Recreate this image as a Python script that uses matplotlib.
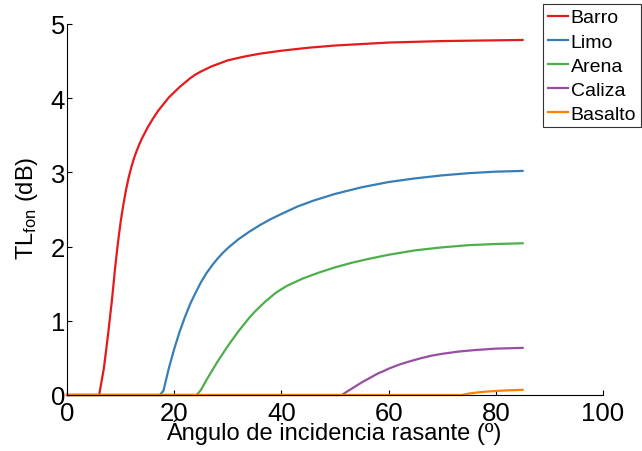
import matplotlib
matplotlib.use("Agg")
import matplotlib.pyplot as plt

plt.rcParams['font.family'] = ['Liberation Sans', 'DejaVu Sans']

# Bottom loss vs grazing angle for several seabed types
barro_ang = [0, 6.0, 6.9, 7.7, 8.4, 9.0, 9.5, 10.0, 10.5, 11.0, 11.5, 12.0, 12.5,
             13.0, 13.5, 14.0, 15.0, 16.0, 17.0, 18.0, 19.0, 20.0, 21.0, 22.0,
             23.0, 24.0, 25.0, 27.0, 30.0, 33.0, 36.0, 40.0, 45.0, 50.0, 55.0,
             60.0, 65.0, 70.0, 75.0, 80.0, 85.0]
barro_tl = [0, 0, 0.37, 0.84, 1.29, 1.73, 2.05, 2.33, 2.56, 2.76, 2.93, 3.07, 3.19,
            3.29, 3.38, 3.46, 3.60, 3.72, 3.83, 3.92, 4.01, 4.08, 4.15, 4.21,
            4.27, 4.32, 4.36, 4.43, 4.51, 4.56, 4.60, 4.64, 4.68, 4.71, 4.73,
            4.75, 4.76, 4.77, 4.775, 4.78, 4.785]

limo_ang = [0, 17.35, 18, 19, 20, 21, 22, 23, 24, 25, 26, 27, 28, 29, 30, 32, 34,
            36, 38, 40, 43, 46, 50, 55, 60, 65, 70, 75, 80, 85]
limo_tl = [0, 0, 0.06, 0.36, 0.62, 0.85, 1.05, 1.23, 1.38, 1.52, 1.64, 1.74, 1.83,
           1.91, 1.98, 2.10, 2.20, 2.29, 2.37, 2.44, 2.54, 2.62, 2.71, 2.80, 2.87,
           2.92, 2.96, 2.99, 3.01, 3.02]

arena_ang = [0, 24.2, 25, 26, 27, 28, 29, 30, 31, 32, 33, 34, 35, 36, 37, 38, 39,
             41, 44, 47, 50, 53, 56, 60, 65, 70, 75, 80, 85]
arena_tl = [0, 0, 0.07, 0.20, 0.32, 0.44, 0.55, 0.66, 0.76, 0.86, 0.95, 1.04,
            1.12, 1.19, 1.26, 1.32, 1.38, 1.47, 1.57, 1.65, 1.72, 1.78, 1.83,
            1.89, 1.95, 1.99, 2.02, 2.035, 2.045]

caliza_ang = [0, 51.3, 52, 53, 54, 55, 56, 57, 58, 59, 60, 62, 64, 66, 68, 70, 73,
              76, 80, 85]
caliza_tl = [0, 0, 0.035, 0.08, 0.125, 0.17, 0.21, 0.25, 0.29, 0.32, 0.355, 0.41,
             0.455, 0.495, 0.53, 0.555, 0.585, 0.605, 0.625, 0.635]

basalto_ang = [0, 73.6, 75, 77, 79, 82, 85]
basalto_tl = [0, 0, 0.02, 0.038, 0.05, 0.062, 0.07]

series = [
    ("Barro", barro_ang, barro_tl, "#e41a1c"),
    ("Limo", limo_ang, limo_tl, "#377eb8"),
    ("Arena", arena_ang, arena_tl, "#4daf4a"),
    ("Caliza", caliza_ang, caliza_tl, "#984ea3"),
    ("Basalto", basalto_ang, basalto_tl, "#ff7f00"),
]

x_ticks = [0, 20, 40, 60, 80, 100]
y_ticks = [0, 1, 2, 3, 4, 5]

fig = plt.figure(figsize=(6.42, 4.52), dpi=100)
ax = fig.add_axes([67 / 642, 56 / 452, 536 / 642, 371 / 452])

for name, ang, tl, col in series:
    ax.plot(ang, tl, color=col, lw=1.6, label=name, clip_on=False,
            solid_joinstyle='round')

ax.set_xlim(0, 100)
ax.set_ylim(0, 5)
ax.set_xticks(x_ticks)
ax.set_yticks(y_ticks)
ax.spines['top'].set_visible(False)
ax.spines['right'].set_visible(False)
for s in ('left', 'bottom'):
    ax.spines[s].set_linewidth(0.8)
ax.tick_params(direction='in', length=3.5, width=0.8, labelsize=18.5)
ax.tick_params(axis='y', pad=1.5)
ax.tick_params(axis='x', pad=4)

fig.text(334 / 642, 1 - 432 / 452, "Ángulo de incidencia rasante (º)",
         ha='center', va='center', fontsize=17)
fig.text(27 / 642, 1 - 208 / 452, r"$\mathregular{TL_{fon}}$ (dB)",
         ha='center', va='center', rotation=90, fontsize=17)

leg = fig.legend(loc='upper right', bbox_to_anchor=(641 / 642, 447 / 452),
                 fontsize=14, frameon=True, fancybox=False, handlelength=1.0,
                 handletextpad=0.15, labelspacing=0.33, borderpad=0.25,
                 borderaxespad=0.0)
leg.get_frame().set_edgecolor('black')
leg.get_frame().set_linewidth(0.8)

fig.savefig("out.png", dpi=100)
